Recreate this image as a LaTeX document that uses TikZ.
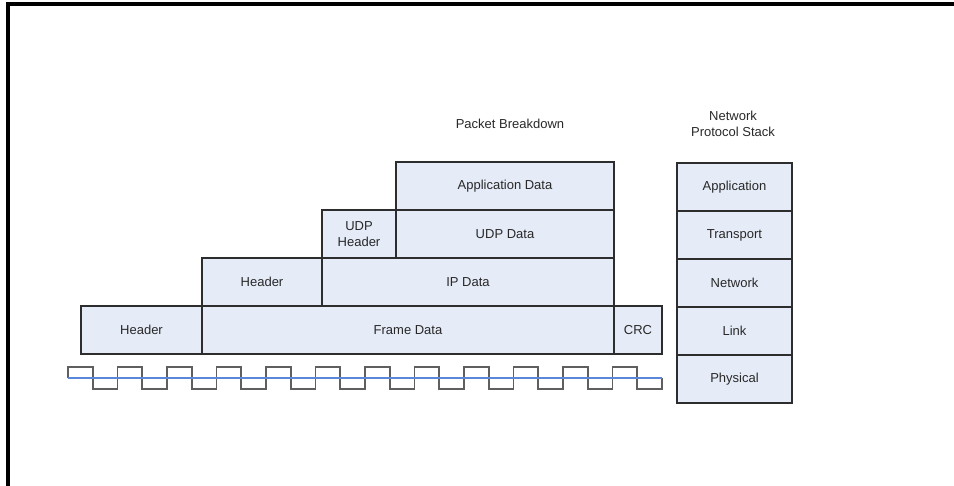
\documentclass[tikz,border=0pt]{standalone}
\usepackage{fontspec}
\setmainfont{Liberation Sans}
\usetikzlibrary{positioning}
\definecolor{cellfill}{RGB}{229,235,247}
\definecolor{celledge}{RGB}{45,45,45}
\definecolor{celltext}{RGB}{40,40,40}
\definecolor{wavegray}{RGB}{95,95,95}
\definecolor{waveblue}{RGB}{90,135,215}

\begin{document}
\begin{tikzpicture}[x=1pt, y=-1pt, font=\fontsize{13}{16}\selectfont]
		\tikzstyle{cell}=[rectangle, draw=celledge, fill=cellfill, line width=1.2pt, text=celltext, minimum height=48pt, inner sep=0pt, outer sep=0pt, align=center]
		\tikzstyle{title}=[text=celltext, align=center]
		\tikzstyle{wave}=[draw=wavegray, line width=1.8pt]
		\tikzstyle{mid}=[draw=waveblue, line width=1.3pt]
		\useasboundingbox (0,0) rectangle (954,486);
		\draw[line width=4pt] (8,486) -- (8,4) -- (954,4);
		
		% packet breakdown
		\node[cell, minimum width=121pt] (hdra) at (141.5,330) {Header};
		\node[cell, minimum width=412pt] (frame) [right=0pt of hdra] {Frame Data};
		\node[cell, minimum width=48pt]  (crc)   [right=0pt of frame] {CRC};
		
		\node[cell, minimum width=120pt, anchor=south west] (hdrb) at (frame.north west) {Header};
		\node[cell, minimum width=292pt] (ipdata)  [right=0pt of hdrb] {IP Data};
		
		\node[cell, minimum width=74pt, anchor=south west] (udphdr) at (ipdata.north west) {UDP\\Header};
		\node[cell, minimum width=218pt] (udpdata) [right=0pt of udphdr] {UDP Data};
		
		\node[cell, minimum width=218pt] (appdata) [above=0pt of udpdata] {Application Data};
		
		\node[title] (ptitle) at (510,124) {Packet Breakdown};
		
		% protocol stack
		\node[cell, minimum width=115pt] (phys)  at (734.5,379) {Physical};
		\node[cell, minimum width=115pt] (link)  [above=0pt of phys]  {Link};
		\node[cell, minimum width=115pt] (net)   [above=0pt of link]  {Network};
		\node[cell, minimum width=115pt] (trans) [above=0pt of net]   {Transport};
		\node[cell, minimum width=115pt] (app)   [above=0pt of trans] {Application};
		
		\node[title] (stitle) at (733,124) {Network\\Protocol Stack};
		
		% signal
		\draw[wave] (68,378) -- (68,367)
		\foreach \i in {1,...,11} { -- ++(24.75,0) -- ++(0,22) -- ++(24.75,0) -- ++(0,-22) }
		-- ++(24.75,0) -- ++(0,22) -- ++(24.75,0) -- ++(0,-11);
		\draw[mid] (68,378) -- (662,378);
		
		\end{tikzpicture}
\end{document}
